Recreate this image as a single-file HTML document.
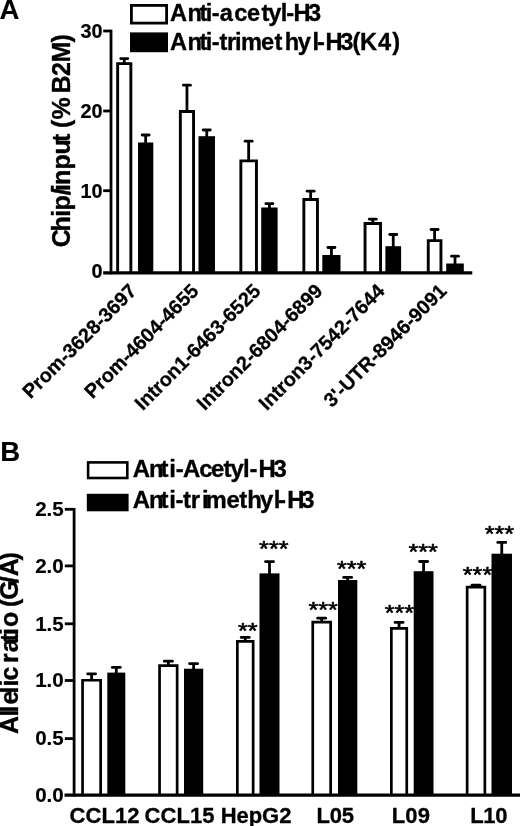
<!DOCTYPE html>
<html lang="en">
<head>
<meta charset="utf-8">
<title>Figure</title>
<style>
html,body{margin:0;padding:0;background:#fff;}
body{width:520px;height:826px;overflow:hidden;}
svg{display:block;}
svg text{font-family:"Liberation Sans", Arial, Helvetica, sans-serif;font-weight:bold;fill:#000;}

</style>
</head>
<body>
<svg width="520" height="826" viewBox="0 0 520 826">
<rect x="0" y="0" width="520" height="826" fill="#fff"/>
<g stroke="#000" fill="none" style="filter:blur(0.45px)">
<text transform="translate(-0.6,19.3)" font-size="27.6" text-anchor="start" stroke="#000" stroke-width="0.15" stroke-linejoin="round">A</text>
<rect x="131.4" y="5.4" width="35.2" height="17.7" fill="#fff" stroke-width="2.8"/>
<rect x="130" y="32.4" width="38" height="19.8" fill="#000" stroke="none"/>
<text transform="translate(170,21.0)" font-size="23.6" x="0.0 17.4 29.5 35.7 41.8 49.7 64.3 77.1 91.6 98.3 110.8 116.3 123.6 138.1" stroke="#000" stroke-width="0.35" stroke-linejoin="round">Anti-acetyl-H3</text>
<text transform="translate(170,49.5)" font-size="23.6" x="0.0 17.4 29.5 35.7 41.8 49.5 56.9 65.1 70.9 91.0 104.4 114.7 127.7 142.6 147.0 155.6 170.2 182.6 190.0 207.9 222.2" stroke="#000" stroke-width="0.35" stroke-linejoin="round">Anti-trimethyl-H3(K4)</text>
<line x1="124.25" y1="58.6" x2="124.25" y2="63.2" stroke-width="2.8"/>
<line x1="120.75" y1="58.6" x2="127.75" y2="58.6" stroke-width="2.8" stroke-linecap="round"/>
<path d="M117.65 272.9 V63.65 H130.85 V272.9" fill="#fff" stroke-width="2.9"/>
<line x1="145.65" y1="135.0" x2="145.65" y2="143.5" stroke-width="2.8"/>
<line x1="142.15" y1="135.0" x2="149.15" y2="135.0" stroke-width="2.8" stroke-linecap="round"/>
<rect x="138.0" y="142.5" width="15.3" height="130.4" fill="#000" stroke="none"/>
<line x1="186.95" y1="85.2" x2="186.95" y2="111.0" stroke-width="2.8"/>
<line x1="183.45" y1="85.2" x2="190.45" y2="85.2" stroke-width="2.8" stroke-linecap="round"/>
<path d="M180.35 272.9 V111.45 H193.55 V272.9" fill="#fff" stroke-width="2.9"/>
<line x1="206.75" y1="130.0" x2="206.75" y2="137.2" stroke-width="2.8"/>
<line x1="203.25" y1="130.0" x2="210.25" y2="130.0" stroke-width="2.8" stroke-linecap="round"/>
<rect x="198.5" y="136.2" width="16.5" height="136.7" fill="#000" stroke="none"/>
<line x1="248.65" y1="141.2" x2="248.65" y2="160.4" stroke-width="2.8"/>
<line x1="245.15" y1="141.2" x2="252.15" y2="141.2" stroke-width="2.8" stroke-linecap="round"/>
<path d="M240.85 272.9 V160.85 H256.45 V272.9" fill="#fff" stroke-width="2.9"/>
<line x1="269.4" y1="203.7" x2="269.4" y2="208.5" stroke-width="2.8"/>
<line x1="265.90" y1="203.7" x2="272.90" y2="203.7" stroke-width="2.8" stroke-linecap="round"/>
<rect x="261.2" y="207.5" width="16.4" height="65.4" fill="#000" stroke="none"/>
<line x1="310.65" y1="191.2" x2="310.65" y2="199.0" stroke-width="2.8"/>
<line x1="307.15" y1="191.2" x2="314.15" y2="191.2" stroke-width="2.8" stroke-linecap="round"/>
<path d="M303.85 272.9 V199.45 H317.45 V272.9" fill="#fff" stroke-width="2.9"/>
<line x1="331.4" y1="247.5" x2="331.4" y2="256.0" stroke-width="2.8"/>
<line x1="327.90" y1="247.5" x2="334.90" y2="247.5" stroke-width="2.8" stroke-linecap="round"/>
<rect x="322.3" y="255.0" width="18.2" height="17.9" fill="#000" stroke="none"/>
<line x1="372.8" y1="219.2" x2="372.8" y2="223.0" stroke-width="2.8"/>
<line x1="369.30" y1="219.2" x2="376.30" y2="219.2" stroke-width="2.8" stroke-linecap="round"/>
<path d="M365.05 272.9 V223.45 H380.55 V272.9" fill="#fff" stroke-width="2.9"/>
<line x1="393.25" y1="234.5" x2="393.25" y2="247.2" stroke-width="2.8"/>
<line x1="389.75" y1="234.5" x2="396.75" y2="234.5" stroke-width="2.8" stroke-linecap="round"/>
<rect x="385.4" y="246.2" width="15.7" height="26.7" fill="#000" stroke="none"/>
<line x1="434.6" y1="229.5" x2="434.6" y2="240.2" stroke-width="2.8"/>
<line x1="431.10" y1="229.5" x2="438.10" y2="229.5" stroke-width="2.8" stroke-linecap="round"/>
<path d="M428.25 272.9 V240.65 H440.95 V272.9" fill="#fff" stroke-width="2.9"/>
<line x1="455.0" y1="256.2" x2="455.0" y2="264.5" stroke-width="2.8"/>
<line x1="451.50" y1="256.2" x2="458.50" y2="256.2" stroke-width="2.8" stroke-linecap="round"/>
<rect x="446.2" y="263.5" width="17.6" height="9.4" fill="#000" stroke="none"/>
<line x1="111.0" y1="29.7" x2="111.0" y2="274.3" stroke-width="2.8"/>
<line x1="103.2" y1="272.9" x2="472.3" y2="272.9" stroke-width="3.2"/>
<line x1="103.2" y1="31.0" x2="111.0" y2="31.0" stroke-width="2.8"/>
<line x1="103.2" y1="111.0" x2="111.0" y2="111.0" stroke-width="2.8"/>
<line x1="103.2" y1="190.7" x2="111.0" y2="190.7" stroke-width="2.8"/>
<text transform="translate(102.6,38.2)" font-size="19.9" text-anchor="end" stroke="#000" stroke-width="0.2" stroke-linejoin="round">30</text>
<text transform="translate(102.6,118.2)" font-size="19.9" text-anchor="end" stroke="#000" stroke-width="0.2" stroke-linejoin="round">20</text>
<text transform="translate(102.6,197.9)" font-size="19.9" text-anchor="end" stroke="#000" stroke-width="0.2" stroke-linejoin="round">10</text>
<text transform="translate(102.6,278.2)" font-size="19.9" text-anchor="end" stroke="#000" stroke-width="0.2" stroke-linejoin="round">0</text>
<text transform="translate(69.9,246) rotate(-90)" font-size="25" x="-1.3 14.4 29.2 35.4 50.7 55.0 61.1 76.4 91.4 103.9 112.2 118.0 126.4 148.6 152.5 170.0 183.4 203.6" stroke="#000" stroke-width="0.35" stroke-linejoin="round">Chip/input (% B2M)</text>
<text transform="translate(137.7,292.3) rotate(-45)" font-size="19.8" text-anchor="end" stroke="#000" stroke-width="0.3" stroke-linejoin="round">Prom-3628-3697</text>
<text transform="translate(199.7,292.3) rotate(-45)" font-size="19.8" text-anchor="end" stroke="#000" stroke-width="0.3" stroke-linejoin="round">Prom-4604-4655</text>
<text transform="translate(261.7,292.3) rotate(-45)" font-size="19.8" text-anchor="end" stroke="#000" stroke-width="0.3" stroke-linejoin="round">Intron1-6463-6525</text>
<text transform="translate(323.7,292.3) rotate(-45)" font-size="19.8" text-anchor="end" stroke="#000" stroke-width="0.3" stroke-linejoin="round">Intron2-6804-6899</text>
<text transform="translate(385.7,292.3) rotate(-45)" font-size="19.8" text-anchor="end" stroke="#000" stroke-width="0.3" stroke-linejoin="round">Intron3-7542-7644</text>
<text transform="translate(447.7,292.3) rotate(-45)" font-size="19.8" text-anchor="end" stroke="#000" stroke-width="0.3" stroke-linejoin="round">3'-UTR-8946-9091</text>
<text transform="translate(0.3,461.4)" font-size="27.6" text-anchor="start" stroke="#000" stroke-width="0.15" stroke-linejoin="round">B</text>
<rect x="88.1" y="462.4" width="39.2" height="15.6" fill="#fff" stroke-width="2.6"/>
<rect x="86.8" y="493.8" width="41.8" height="17.5" fill="#000" stroke="none"/>
<text transform="translate(133,476.5)" font-size="23.9" x="-0.2 16.1 27.5 36.2 42.8 50.1 66.3 78.1 90.4 97.6 110.1 116.4 125.6 140.5" stroke="#000" stroke-width="0.35" stroke-linejoin="round">Anti-Acetyl-H3</text>
<text transform="translate(133,508.4)" font-size="23.9" x="-0.2 16.1 27.5 36.2 42.6 49.9 57.7 69.1 72.6 93.5 106.2 114.3 127.1 140.8 144.9 154.2 168.2" stroke="#000" stroke-width="0.35" stroke-linejoin="round">Anti-trimethyl-H3</text>
<line x1="91.6" y1="673.8" x2="91.6" y2="679.9" stroke-width="2.8"/>
<line x1="87.60" y1="673.8" x2="95.60" y2="673.8" stroke-width="2.8" stroke-linecap="round"/>
<path d="M82.55 795.15 V680.25 H100.65 V795.15" fill="#fff" stroke-width="2.7"/>
<line x1="116.3" y1="667.4" x2="116.3" y2="673.6" stroke-width="2.8"/>
<line x1="112.30" y1="667.4" x2="120.30" y2="667.4" stroke-width="2.8" stroke-linecap="round"/>
<rect x="107.3" y="672.6" width="18.0" height="122.55" fill="#000" stroke="none"/>
<line x1="168.35" y1="661.2" x2="168.35" y2="665.3" stroke-width="2.8"/>
<line x1="164.35" y1="661.2" x2="172.35" y2="661.2" stroke-width="2.8" stroke-linecap="round"/>
<path d="M159.55 795.15 V665.65 H177.15 V795.15" fill="#fff" stroke-width="2.7"/>
<line x1="193.6" y1="663.7" x2="193.6" y2="669.7" stroke-width="2.8"/>
<line x1="189.60" y1="663.7" x2="197.60" y2="663.7" stroke-width="2.8" stroke-linecap="round"/>
<rect x="184.0" y="668.7" width="19.2" height="126.45" fill="#000" stroke="none"/>
<line x1="245.25" y1="637.4" x2="245.25" y2="641.0" stroke-width="2.8"/>
<line x1="241.25" y1="637.4" x2="249.25" y2="637.4" stroke-width="2.8" stroke-linecap="round"/>
<path d="M237.35 795.15 V641.35 H253.15 V795.15" fill="#fff" stroke-width="2.7"/>
<line x1="269.5" y1="561.6" x2="269.5" y2="574.4" stroke-width="2.8"/>
<line x1="265.50" y1="561.6" x2="273.50" y2="561.6" stroke-width="2.8" stroke-linecap="round"/>
<rect x="259.5" y="573.4" width="20.0" height="221.75" fill="#000" stroke="none"/>
<text transform="translate(247.8,638.3) scale(1.12,1)" font-size="22.5" text-anchor="middle" stroke="#000" stroke-width="0.6" stroke-linejoin="round" style="font-weight:normal">**</text>
<text transform="translate(273.8,556.3) scale(1.12,1)" font-size="22.5" text-anchor="middle" stroke="#000" stroke-width="0.6" stroke-linejoin="round" style="font-weight:normal">***</text>
<line x1="321.7" y1="618.2" x2="321.7" y2="621.7" stroke-width="2.8"/>
<line x1="317.70" y1="618.2" x2="325.70" y2="618.2" stroke-width="2.8" stroke-linecap="round"/>
<path d="M312.75 795.15 V622.05 H330.65 V795.15" fill="#fff" stroke-width="2.7"/>
<line x1="347.65" y1="577.4" x2="347.65" y2="581.0" stroke-width="2.8"/>
<line x1="343.65" y1="577.4" x2="351.65" y2="577.4" stroke-width="2.8" stroke-linecap="round"/>
<rect x="338.0" y="580.0" width="19.3" height="215.15" fill="#000" stroke="none"/>
<text transform="translate(323.1,617.0) scale(1.12,1)" font-size="22.5" text-anchor="middle" stroke="#000" stroke-width="0.6" stroke-linejoin="round" style="font-weight:normal">***</text>
<text transform="translate(351.6,575.8) scale(1.12,1)" font-size="22.5" text-anchor="middle" stroke="#000" stroke-width="0.6" stroke-linejoin="round" style="font-weight:normal">***</text>
<line x1="399.05" y1="622.4" x2="399.05" y2="628.0" stroke-width="2.8"/>
<line x1="395.05" y1="622.4" x2="403.05" y2="622.4" stroke-width="2.8" stroke-linecap="round"/>
<path d="M391.35 795.15 V628.35 H406.75 V795.15" fill="#fff" stroke-width="2.7"/>
<line x1="423.6" y1="561.5" x2="423.6" y2="572.2" stroke-width="2.8"/>
<line x1="419.60" y1="561.5" x2="427.60" y2="561.5" stroke-width="2.8" stroke-linecap="round"/>
<rect x="413.7" y="571.2" width="19.8" height="223.95" fill="#000" stroke="none"/>
<text transform="translate(399.4,619.5) scale(1.12,1)" font-size="22.5" text-anchor="middle" stroke="#000" stroke-width="0.6" stroke-linejoin="round" style="font-weight:normal">***</text>
<text transform="translate(423.1,558.8) scale(1.12,1)" font-size="22.5" text-anchor="middle" stroke="#000" stroke-width="0.6" stroke-linejoin="round" style="font-weight:normal">***</text>
<line x1="476.0" y1="585.2" x2="476.0" y2="586.7" stroke-width="2.8"/>
<line x1="472.00" y1="585.2" x2="480.00" y2="585.2" stroke-width="2.8" stroke-linecap="round"/>
<path d="M467.15 795.15 V587.05 H484.85 V795.15" fill="#fff" stroke-width="2.7"/>
<line x1="501.75" y1="542.4" x2="501.75" y2="554.7" stroke-width="2.8"/>
<line x1="497.75" y1="542.4" x2="505.75" y2="542.4" stroke-width="2.8" stroke-linecap="round"/>
<rect x="491.5" y="553.7" width="20.5" height="241.45" fill="#000" stroke="none"/>
<text transform="translate(477.5,582.0) scale(1.12,1)" font-size="22.5" text-anchor="middle" stroke="#000" stroke-width="0.6" stroke-linejoin="round" style="font-weight:normal">***</text>
<text transform="translate(499.4,540.8) scale(1.12,1)" font-size="22.5" text-anchor="middle" stroke="#000" stroke-width="0.6" stroke-linejoin="round" style="font-weight:normal">***</text>
<line x1="74.1" y1="508.1" x2="74.1" y2="796.55" stroke-width="2.8"/>
<line x1="64.5" y1="795.15" x2="520" y2="795.15" stroke-width="3.2"/>
<line x1="64.8" y1="509.3" x2="74.1" y2="509.3" stroke-width="2.8"/>
<text transform="translate(63.8,516.0)" font-size="20.6" text-anchor="end" stroke="#000" stroke-width="0.15" stroke-linejoin="round">2.5</text>
<line x1="64.8" y1="565.9" x2="74.1" y2="565.9" stroke-width="2.8"/>
<text transform="translate(63.8,572.6)" font-size="20.6" text-anchor="end" stroke="#000" stroke-width="0.15" stroke-linejoin="round">2.0</text>
<line x1="64.8" y1="623.8" x2="74.1" y2="623.8" stroke-width="2.8"/>
<text transform="translate(63.8,630.5)" font-size="20.6" text-anchor="end" stroke="#000" stroke-width="0.15" stroke-linejoin="round">1.5</text>
<line x1="64.8" y1="680.5" x2="74.1" y2="680.5" stroke-width="2.8"/>
<text transform="translate(63.8,687.2)" font-size="20.6" text-anchor="end" stroke="#000" stroke-width="0.15" stroke-linejoin="round">1.0</text>
<line x1="64.8" y1="738.6" x2="74.1" y2="738.6" stroke-width="2.8"/>
<text transform="translate(63.8,745.3)" font-size="20.6" text-anchor="end" stroke="#000" stroke-width="0.15" stroke-linejoin="round">0.5</text>
<text transform="translate(63.8,801.7)" font-size="20.6" text-anchor="end" stroke="#000" stroke-width="0.15" stroke-linejoin="round">0.0</text>
<text transform="translate(17.8,733) rotate(-90)" font-size="25" x="-0.9 16.5 20.4 28.4 39.6 46.5 52.4 66.3 69.9 80.7 91.4 97.9 106.1 121.4 126.1 133.3 149.8 156.8 172.4" stroke="#000" stroke-width="0.35" stroke-linejoin="round">Allelic ratio (G/A)</text>
<text transform="translate(69.6,822.9)" font-size="22.0" text-anchor="start" textLength="69.9" lengthAdjust="spacing" stroke="#000" stroke-width="0.3" stroke-linejoin="round">CCL12</text>
<text transform="translate(144.6,822.9)" font-size="22.0" text-anchor="start" textLength="69.9" lengthAdjust="spacing" stroke="#000" stroke-width="0.3" stroke-linejoin="round">CCL15</text>
<text transform="translate(220.7,822.9)" font-size="22.0" text-anchor="start" textLength="70.7" lengthAdjust="spacing" stroke="#000" stroke-width="0.3" stroke-linejoin="round">HepG2</text>
<text transform="translate(316.5,822.9)" font-size="22.0" text-anchor="start" textLength="37.6" lengthAdjust="spacing" stroke="#000" stroke-width="0.3" stroke-linejoin="round">L05</text>
<text transform="translate(391.7,822.9)" font-size="22.0" text-anchor="start" textLength="38.3" lengthAdjust="spacing" stroke="#000" stroke-width="0.3" stroke-linejoin="round">L09</text>
<text transform="translate(470.3,822.9)" font-size="22.0" text-anchor="start" textLength="37.2" lengthAdjust="spacing" stroke="#000" stroke-width="0.3" stroke-linejoin="round">L10</text>
</g>
</svg>
</body>
</html>
